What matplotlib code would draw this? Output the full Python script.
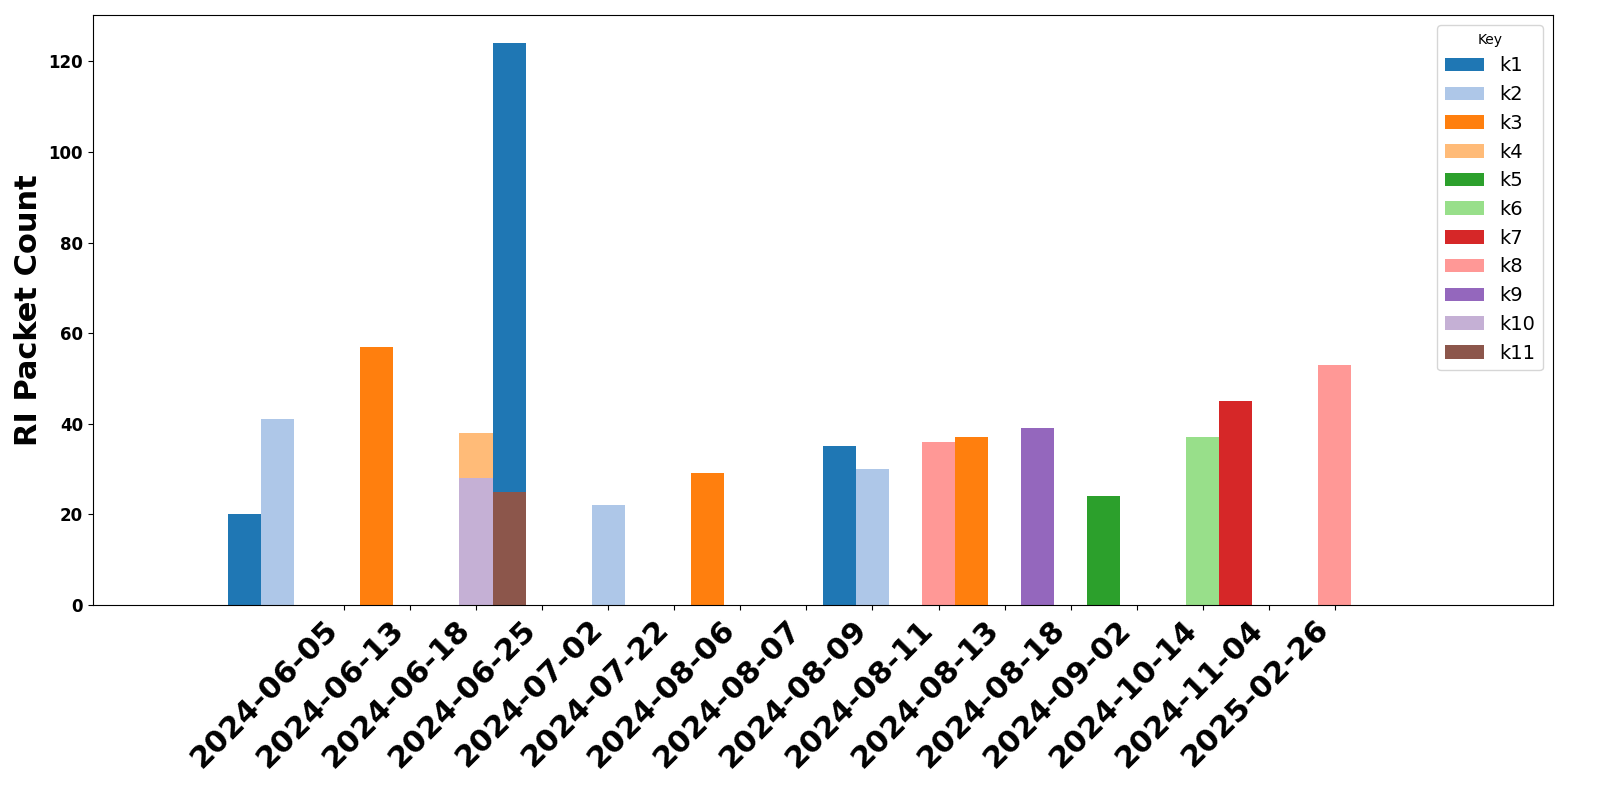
import numpy as np
from matplotlib import pyplot as plt

dates = ['2024-06-05', '2024-06-13', '2024-06-18', '2024-06-25', '2024-07-02',
         '2024-07-22', '2024-08-06', '2024-08-07', '2024-08-09', '2024-08-11',
         '2024-08-13', '2024-08-18', '2024-09-02', '2024-10-14', '2024-11-04',
         '2025-02-26']
keys = ['k1', 'k2', 'k3', 'k4', 'k5', 'k6', 'k7', 'k8', 'k9', 'k10', 'k11']

# counts per key, one value per date (0 = nothing that day)
k1 = [0, 20, 0, 0, 0, 124, 0, 0, 0, 0, 35, 0, 0, 0, 0, 0]
k2 = [0, 41, 0, 0, 0, 0, 22, 0, 0, 0, 30, 0, 0, 0, 0, 0]
k3 = [0, 0, 57, 0, 0, 0, 0, 29, 0, 0, 0, 37, 0, 0, 0, 0]
k4 = [0, 0, 0, 38, 0, 0, 0, 0, 0, 0, 0, 0, 0, 0, 0, 0]
k5 = [0, 0, 0, 0, 0, 0, 0, 0, 0, 0, 0, 0, 24, 0, 0, 0]
k6 = [0, 0, 0, 0, 0, 0, 0, 0, 0, 0, 0, 0, 0, 37, 0, 0]
k7 = [0, 0, 0, 0, 0, 0, 0, 0, 0, 0, 0, 0, 0, 45, 0, 0]
k8 = [0, 0, 0, 0, 0, 0, 0, 0, 36, 0, 0, 0, 0, 0, 53, 0]
k9 = [0, 0, 0, 0, 0, 0, 0, 0, 0, 39, 0, 0, 0, 0, 0, 0]
k10 = [28, 0, 0, 0, 0, 0, 0, 0, 0, 0, 0, 0, 0, 0, 0, 0]
k11 = [25, 0, 0, 0, 0, 0, 0, 0, 0, 0, 0, 0, 0, 0, 0, 0]
counts = [k1, k2, k3, k4, k5, k6, k7, k8, k9, k10, k11]

cores = plt.get_cmap('tab20').colors

fig, ax = plt.subplots(figsize=(16, 8), dpi=100)
fig.subplots_adjust(left=0.058, right=0.9706, top=0.981, bottom=0.244)

x = np.arange(len(dates))
width = 0.5
n = len(keys)
for i, key in enumerate(keys):
    offset = (i - (n - 1) / 2) * width
    ax.bar(x + offset, counts[i], width, label=key, color=cores[i])

ax.set_xticks(x)
ax.set_xticklabels(dates, rotation=45, ha='right', fontsize=22, fontweight='bold')
ax.set_xlim(-3.8, 18.3)
for lab in ax.get_yticklabels():
    lab.set_fontweight('bold')
    lab.set_fontsize(12)
ax.set_ylabel('RI Packet Count', fontsize=22, fontweight='bold')
ax.legend(title='Key', loc='upper right', fontsize=14)

plt.savefig('out.png', dpi=100)
